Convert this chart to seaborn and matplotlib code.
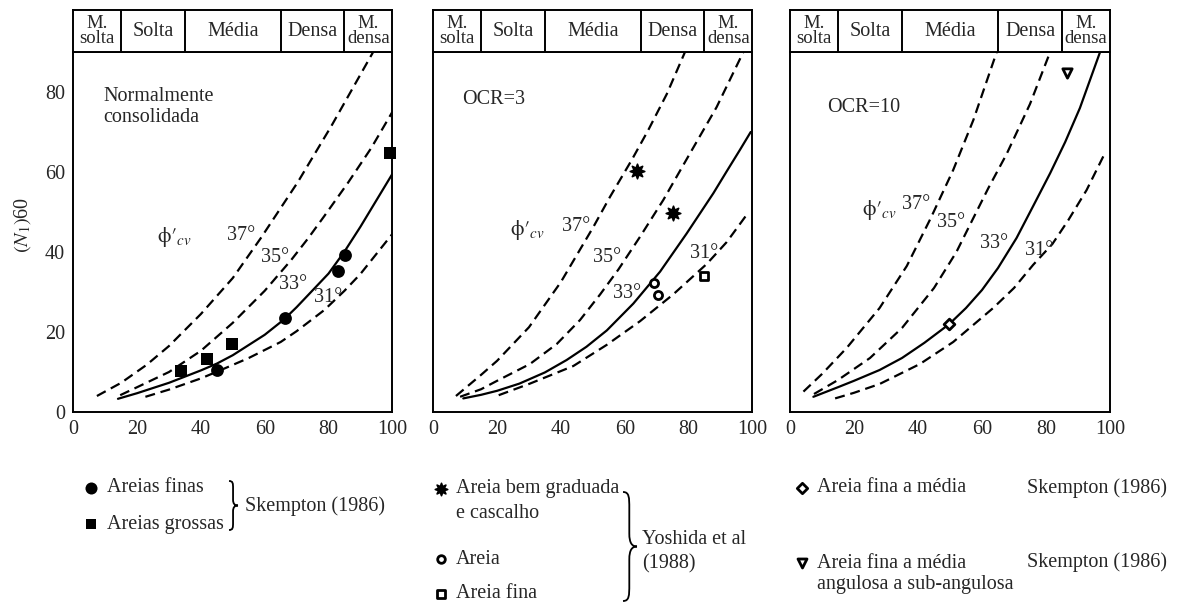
import numpy as np
import pandas as pd
import matplotlib
matplotlib.use('Agg')
import matplotlib.pyplot as plt
from matplotlib.path import Path
from matplotlib.patches import PathPatch
import seaborn as sns

# ---- data ---------------------------------------------------------------
density_edges = [0, 15, 35, 65, 85, 100]
density_labels = ['M.\nsolta', 'Solta', 'Média', 'Densa', 'M.\ndensa']
x_ticks = [0, 20, 40, 60, 80, 100]
y_ticks = [0, 10, 20, 30, 40, 50, 60, 70, 80]
y_ticklabels = ['0', '', '20', '', '40', '', '60', '', '80']

# Normally consolidated
nc_37_x = [7.4, 15, 23, 30, 40, 50, 58.8, 70.4, 80.9, 94]
nc_37_y = [4.0, 7.3, 11.8, 16.5, 24.5, 33.5, 43.5, 57.5, 71.5, 90]
nc_35_x = [14.7, 20, 30, 40, 50, 60, 68.3, 73.5, 78.7, 86.1, 93.4, 100]
nc_35_y = [4.2, 6.2, 10, 15.3, 22.3, 30.3, 38.0, 43.3, 49, 57.3, 66, 75]
nc_33_x = [14, 20, 30, 40, 45, 50, 60, 66, 70, 80, 85, 90, 100]
nc_33_y = [3.3, 4.7, 7.3, 10.4, 12.1, 14.2, 19.3, 23.1, 26.2, 34.6, 40.1, 46.3, 59.5]
nc_31_x = [22.6, 30, 40, 46, 55, 65, 70, 78.7, 85, 90, 100]
nc_31_y = [3.8, 5.6, 8.4, 10.4, 13.5, 17.5, 20.2, 25.5, 30.3, 34.5, 44.5]

# OCR = 3
ocr3_37_x = [7.1, 15, 20, 30, 40, 50.2, 55.4, 62.2, 67.4, 73.2, 78.9]
ocr3_37_y = [4, 9.3, 12.8, 21.2, 32.5, 46.3, 53.8, 63, 70.5, 79.5, 90]
ocr3_35_x = [8.4, 15, 20, 30.3, 38.7, 46, 52.3, 58, 64.8, 72.1, 80.5, 88.8, 97.2]
ocr3_35_y = [3.8, 5.7, 7.8, 12.0, 17.0, 23.0, 29.4, 35.6, 43.8, 53, 64.7, 76.2, 90]
ocr3_33_x = [9.4, 15, 20, 27, 35, 41.8, 48, 54.4, 62.7, 67, 71.1, 79.4, 87.8, 92, 96.1, 99.5]
ocr3_33_y = [3.4, 4.3, 5.3, 7.1, 9.9, 13, 16.3, 20.4, 27.1, 31.2, 35.1, 44.6, 54.7, 60.2, 65.5, 70]
ocr3_31_x = [20.5, 30.3, 43.9, 54.4, 64.8, 75.2, 85.7, 92, 98.6]
ocr3_31_y = [4.2, 7.1, 11.5, 16.8, 22.7, 29.4, 37.0, 42.5, 49.7]

# OCR = 10
ocr10_37_x = [4.2, 10, 17.7, 28, 36.5, 44, 51, 57.3, 64.6]
ocr10_37_y = [5.1, 9.5, 16, 26, 36.5, 48.5, 60.5, 73, 90]
ocr10_35_x = [7.5, 15, 25, 35, 45, 52, 57.3, 62, 67.7, 75, 81.3]
ocr10_35_y = [4.5, 8, 13.5, 21, 31, 40, 48.5, 56, 64.5, 77, 90]
ocr10_33_x = [7.3, 15, 20, 28, 35, 42, 49.8, 55, 60, 65, 70.8, 76, 81.3, 86, 90.6, 96.9]
ocr10_33_y = [3.8, 6.2, 7.8, 10.5, 13.5, 17.3, 22, 26, 30.5, 36, 43.5, 51.5, 59.7, 67.5, 76, 90]
ocr10_31_x = [14.1, 20, 28, 40.6, 51, 63.5, 70, 76, 82, 87, 92.7, 98.4]
ocr10_31_y = [3.4, 4.8, 7, 12, 17.5, 26, 31, 36.8, 42, 48, 55.5, 64.7]

# measured points
finas_x = [44.9, 66.4, 83.0, 85.3]
finas_y = [10.5, 23.4, 35.3, 39.3]
grossas_x = [33.8, 41.8, 49.6, 99.2]
grossas_y = [10.3, 13.3, 17.0, 64.7]
cascalho_x = [63.9, 75.0]
cascalho_y = [60.3, 49.8]
areia_x = [69.3, 70.5]
areia_y = [32.3, 29.3]
areia_fina_x = [84.9]
areia_fina_y = [34.1]
fina_media_x = [49.8]
fina_media_y = [22.0]
angulosa_x = [86.7]
angulosa_y = [84.8]

# ---- style ---------------------------------------------------------------
sns.set_theme(style='white')
plt.rcParams['font.family'] = ['Liberation Serif', 'DejaVu Serif']
plt.rcParams['mathtext.fontset'] = 'stix'
plt.rcParams['axes.linewidth'] = 1.4
plt.rcParams['axes.edgecolor'] = 'black'
FS = 14.5
LW = 1.6
DASH = (4.5, 2.6)

W, H = 1179, 602
fig = plt.figure(figsize=(W / 100, H / 100), dpi=100)
fig.patch.set_facecolor('white')


def frac(left, top, width, height):
    return [left / W, 1 - (top + height) / H, width / W, height / H]


panels = [
    dict(left=73.3, width=319,
         curves={37: (nc_37_x, nc_37_y), 35: (nc_35_x, nc_35_y),
                 33: (nc_33_x, nc_33_y), 31: (nc_31_x, nc_31_y)},
         labels={37: (48.3, 44.2), 35: (58.8, 38.7), 33: (64.5, 31.9), 31: (75.6, 28.6)},
         phi=(26.3, 43.7), title='Normalmente\nconsolidada', title_xy=(9.4, 81.2)),
    dict(left=433.3, width=319,
         curves={37: (ocr3_37_x, ocr3_37_y), 35: (ocr3_35_x, ocr3_35_y),
                 33: (ocr3_33_x, ocr3_33_y), 31: (ocr3_31_x, ocr3_31_y)},
         labels={37: (40.2, 46.3), 35: (50.2, 38.6), 33: (56.4, 29.5), 31: (80.5, 39.5)},
         phi=(24.0, 45.5), title='OCR=3', title_xy=(8.9, 80.6)),
    dict(left=790, width=320,
         curves={37: (ocr10_37_x, ocr10_37_y), 35: (ocr10_35_x, ocr10_35_y),
                 33: (ocr10_33_x, ocr10_33_y), 31: (ocr10_31_x, ocr10_31_y)},
         labels={37: (34.9, 51.9), 35: (45.8, 47.4), 33: (59.4, 42.0), 31: (73.4, 40.3)},
         phi=(22.4, 50.5), title='OCR=10', title_xy=(11.5, 78.5)),
]

axes = []
for i, p in enumerate(panels):
    ax = fig.add_axes(frac(p['left'], 52, p['width'], 360))
    axes.append(ax)
    for phi, (xs, ys) in p['curves'].items():
        df = pd.DataFrame({'x': xs, 'y': ys})
        sns.lineplot(data=df, x='x', y='y', ax=ax, color='black', lw=LW,
                     sort=False, estimator=None)
        if phi != 33:
            ax.lines[-1].set_dashes(DASH)
        lx, ly = p['labels'][phi]
        ax.text(lx, ly, f'{phi}°', fontsize=FS, ha='left', va='center')
    ax.text(p['phi'][0], p['phi'][1], r"$\mathrm{\phi}\prime_{cv}$", fontsize=FS + 1,
            ha='left', va='center')
    ax.text(p['title_xy'][0], p['title_xy'][1], p['title'], fontsize=FS,
            ha='left', va='top', linespacing=1.15)
    ax.set_xlim(0, 100)
    ax.set_ylim(0, 90)
    ax.set_xticks(x_ticks)
    ax.set_yticks(y_ticks)
    ax.tick_params(axis='x', length=0, pad=6, labelsize=FS)
    ax.tick_params(axis='y', direction='in', length=8, width=1.4, labelsize=FS, pad=6)
    ax.set_xlabel('')
    if i == 0:
        ax.set_yticklabels(y_ticklabels)
        ax.set_ylabel(r'$(N_1)$60', fontsize=FS)
        ax.yaxis.set_label_coords(-0.125, 0.52)
    else:
        ax.set_yticklabels([])
        ax.set_ylabel('')
    for s in ax.spines.values():
        s.set_linewidth(1.4)

    # density header
    hx = fig.add_axes(frac(p['left'], 10, p['width'], 42))
    hx.set_xlim(0, 100)
    hx.set_ylim(0, 1)
    hx.set_xticks([])
    hx.set_yticks([])
    for s in hx.spines.values():
        s.set_linewidth(1.4)
    for e in density_edges[1:-1]:
        hx.axvline(e, color='black', lw=1.4)
    for a, b, lab in zip(density_edges[:-1], density_edges[1:], density_labels):
        two = '\n' in lab
        hx.text((a + b) / 2, 0.5, lab, ha='center', va='center',
                fontsize=FS - 1 if two else FS, linespacing=0.85)


# markers
def pts(ax, xs, ys, marker, s, filled=True, lw=2.0):
    sns.scatterplot(x=xs, y=ys, ax=ax, marker=marker, s=s,
                    color='black' if filled else 'white',
                    edgecolor='black', linewidth=lw if filled else 2.0,
                    clip_on=False, zorder=5, legend=False)


pts(axes[0], finas_x, finas_y, 'o', 85, lw=0)
pts(axes[0], grossas_x, grossas_y, 's', 70, lw=0)
pts(axes[1], cascalho_x, cascalho_y, (8, 1, 0), 110, lw=1.2)
pts(axes[1], areia_x, areia_y, 'o', 34, filled=False)
pts(axes[1], areia_fina_x, areia_fina_y, 's', 38, filled=False)
pts(axes[2], fina_media_x, fina_media_y, 'D', 30, filled=False)
pts(axes[2], angulosa_x, angulosa_y, 'v', 45, filled=False)

# ---- legend area (pixel coordinates) ---------------------------------------
lax = fig.add_axes([0, 0, 1, 1])
lax.set_xlim(0, W)
lax.set_ylim(H, 0)
lax.axis('off')
lax.patch.set_alpha(0)


def brace(x, top, bottom, w):
    h = bottom - top
    mid = (top + bottom) / 2
    xm = x + w * 0.45
    verts = [(x, top), (xm, top), (xm, top + 0.05 * h), (xm, top + 0.15 * h),
             (xm, mid - 0.12 * h),
             (xm, mid - 0.03 * h), (xm + 0.2 * w, mid), (x + w, mid),
             (xm + 0.2 * w, mid), (xm, mid + 0.03 * h), (xm, mid + 0.12 * h),
             (xm, bottom - 0.15 * h),
             (xm, bottom - 0.05 * h), (xm, bottom), (x, bottom)]
    codes = [Path.MOVETO] + [Path.CURVE4] * 3 + [Path.LINETO] + [Path.CURVE4] * 6 + \
            [Path.LINETO] + [Path.CURVE4] * 3
    lax.add_patch(PathPatch(Path(verts, codes), fill=False, lw=1.3, color='black'))


def leg_marker(x, y, marker, s, filled=True, lw=0):
    lax.scatter([x], [y], marker=marker, s=s, color='black' if filled else 'white',
                edgecolor='black', linewidth=lw if filled else 2.0, zorder=5)


leg_marker(90.7, 488, 'o', 75)
leg_marker(90.7, 524, 's', 60)
lax.text(106.7, 488, 'Areias finas', fontsize=FS, va='center')
lax.text(106.7, 524, 'Areias grossas', fontsize=FS, va='center')
brace(229, 481, 530, 9)
lax.text(245, 506, 'Skempton (1986)', fontsize=FS, va='center')

leg_marker(440.7, 489, (8, 1, 0), 80, lw=1.2)
leg_marker(440.7, 559, 'o', 30, filled=False)
leg_marker(440.7, 594, 's', 32, filled=False)
lax.text(456, 489, 'Areia bem graduada', fontsize=FS, va='center')
lax.text(456, 513, 'e cascalho', fontsize=FS, va='center')
lax.text(456, 559, 'Areia', fontsize=FS, va='center')
lax.text(456, 594, 'Areia fina', fontsize=FS, va='center')
brace(623, 492, 601, 14)
lax.text(642, 540, 'Yoshida et al', fontsize=FS, va='center')
lax.text(642, 564, '(1988)', fontsize=FS, va='center')

leg_marker(801.7, 488, 'D', 28, filled=False)
leg_marker(801.7, 563, 'v', 42, filled=False)
lax.text(816.7, 488, 'Areia fina a média', fontsize=FS, va='center')
lax.text(816.7, 563, 'Areia fina a média', fontsize=FS, va='center')
lax.text(816.7, 585, 'angulosa a sub-angulosa', fontsize=FS, va='center')
lax.text(1026.7, 488, 'Skempton (1986)', fontsize=FS, va='center')
lax.text(1026.7, 562, 'Skempton (1986)', fontsize=FS, va='center')

fig.savefig('out.png', dpi=100)
